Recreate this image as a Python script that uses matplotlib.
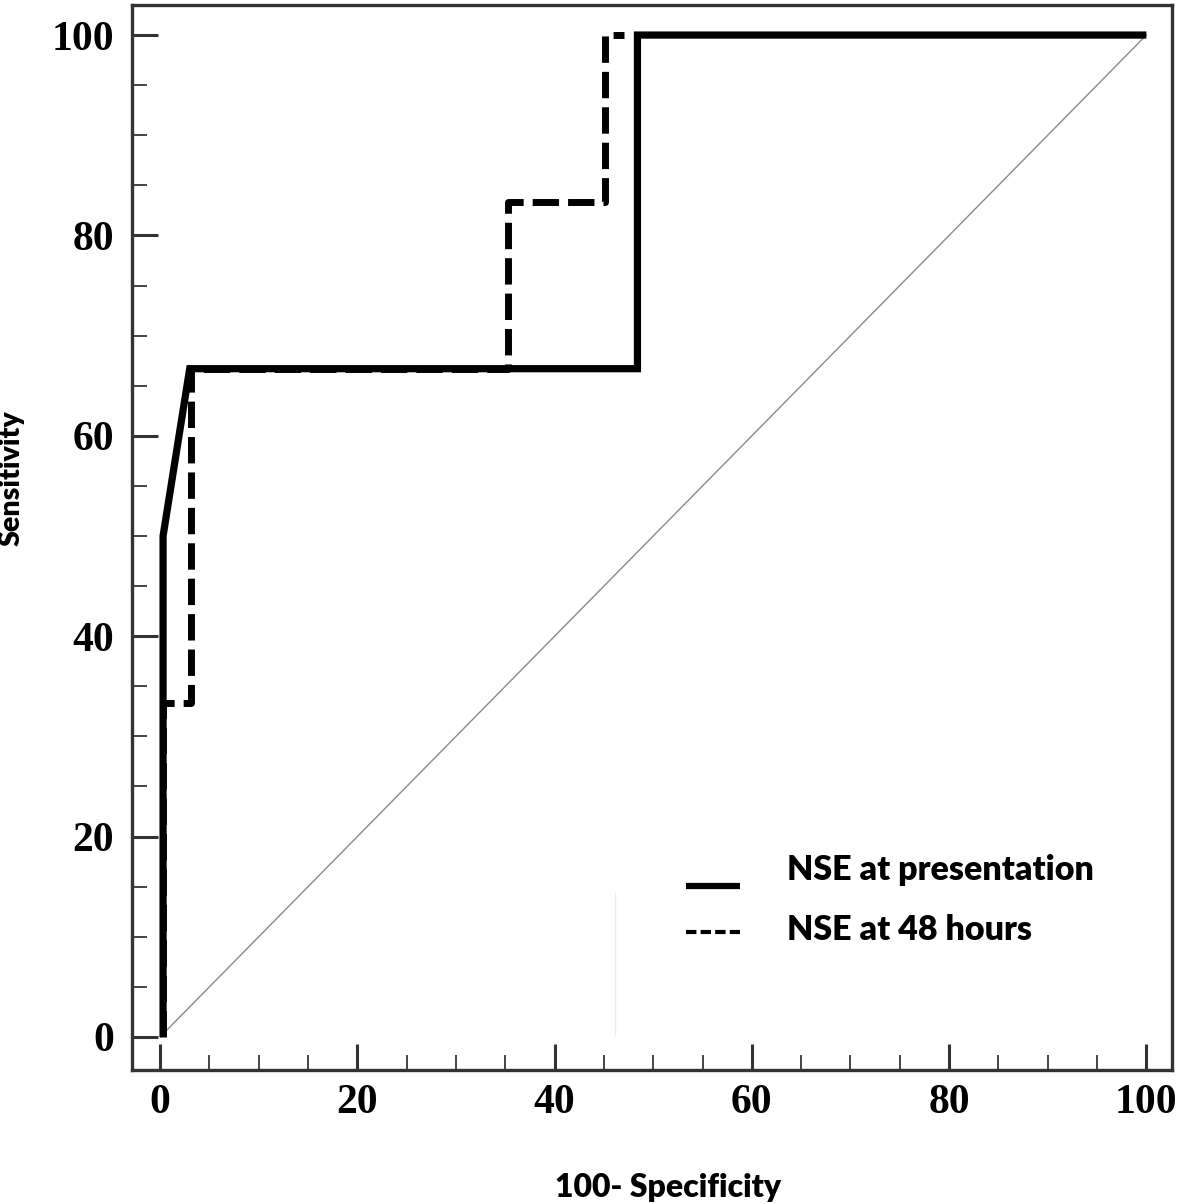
import matplotlib
matplotlib.use("Agg")
import matplotlib.pyplot as plt
from matplotlib.lines import Line2D
from matplotlib.ticker import MultipleLocator

# ---- data ----
presentation_x = [0.3, 0.3, 3.0, 48.4, 48.4, 100.0]
presentation_y = [0.0, 50.0, 66.7, 66.7, 100.0, 100.0]

h48_x = [0.3, 0.3, 3.1, 3.1, 35.3, 35.3, 45.1, 45.1, 47.0]
h48_y = [0.0, 33.3, 33.3, 66.7, 66.7, 83.3, 83.3, 100.0, 100.0]

diag_x = [0.0, 100.0]
diag_y = [0.0, 100.0]

artifact_x = [46.1, 46.1]
artifact_y = [0.2, 14.4]

x_ticks = [0, 20, 40, 60, 80, 100]
y_ticks = [0, 20, 40, 60, 80, 100]
legend_labels = ["NSE at presentation", "NSE at 48 hours"]
x_label = "100- Specificity"
y_label = "Sensitivity"

# ---- figure ----
W, H = 1180, 1204
fig = plt.figure(figsize=(W / 100, H / 100), dpi=100)
ax = fig.add_axes([132 / W, 1 - 1070 / H, (1172 - 132) / W, (1070 - 5) / H])

ax.plot(diag_x, diag_y, color="#8a8a8a", lw=1.0, zorder=1)
ax.plot(artifact_x, artifact_y, color="#ececec", lw=1.0, zorder=1)
ax.plot(h48_x, h48_y, color="black", lw=5, dashes=(3.8, 1.3),
        solid_capstyle="butt", dash_capstyle="butt", zorder=2)
ax.plot(presentation_x, presentation_y, color="black", lw=5.2,
        solid_joinstyle="miter", solid_capstyle="butt", zorder=3)

ax.set_xlim(-2.85, 102.6)
ax.set_ylim(-3.3, 103.0)

ax.set_xticks(x_ticks)
ax.set_yticks(y_ticks)
ax.xaxis.set_minor_locator(MultipleLocator(5))
ax.yaxis.set_minor_locator(MultipleLocator(5))

tick_font = dict(family="Liberation Serif", weight="bold", size=30)
ax.set_xticklabels([str(t) for t in x_ticks], **tick_font)
ax.set_yticklabels([str(t) for t in y_ticks], **tick_font)

ax.tick_params(which="major", direction="in", length=19, width=2.2,
               color="#333333")
ax.tick_params(which="minor", direction="in", length=11, width=1.4,
               color="#444444")
ax.tick_params(axis="x", which="major", pad=10)
ax.tick_params(axis="y", which="major", pad=13)

for s in ax.spines.values():
    s.set_linewidth(2.4)
    s.set_color("#333333")

fig.text(668 / W, 1 - 1188 / H, x_label, ha="center", va="center",
         family="Lato", weight="heavy", size=23)
fig.text(12 / W, 1 - 478 / H, y_label, ha="center", va="center",
         rotation=90, family="Lato", weight="heavy", size=20.5)

# ---- legend (manual) ----
fig.add_artist(Line2D([686 / W, 740 / W], [1 - 886 / H, 1 - 886 / H],
                      color="black", lw=4.5, solid_capstyle="butt"))
fig.add_artist(Line2D([686 / W, 740 / W], [1 - 932 / H, 1 - 932 / H],
                      color="black", lw=3, dashes=(2.5, 1.0),
                      dash_capstyle="butt"))
leg_font = dict(family="Lato", weight="heavy", size=24.5)
fig.text(787 / W, 1 - 870 / H, legend_labels[0], ha="left", va="center", **leg_font)
fig.text(787 / W, 1 - 930 / H, legend_labels[1], ha="left", va="center", **leg_font)

fig.savefig("out.png", dpi=100)
